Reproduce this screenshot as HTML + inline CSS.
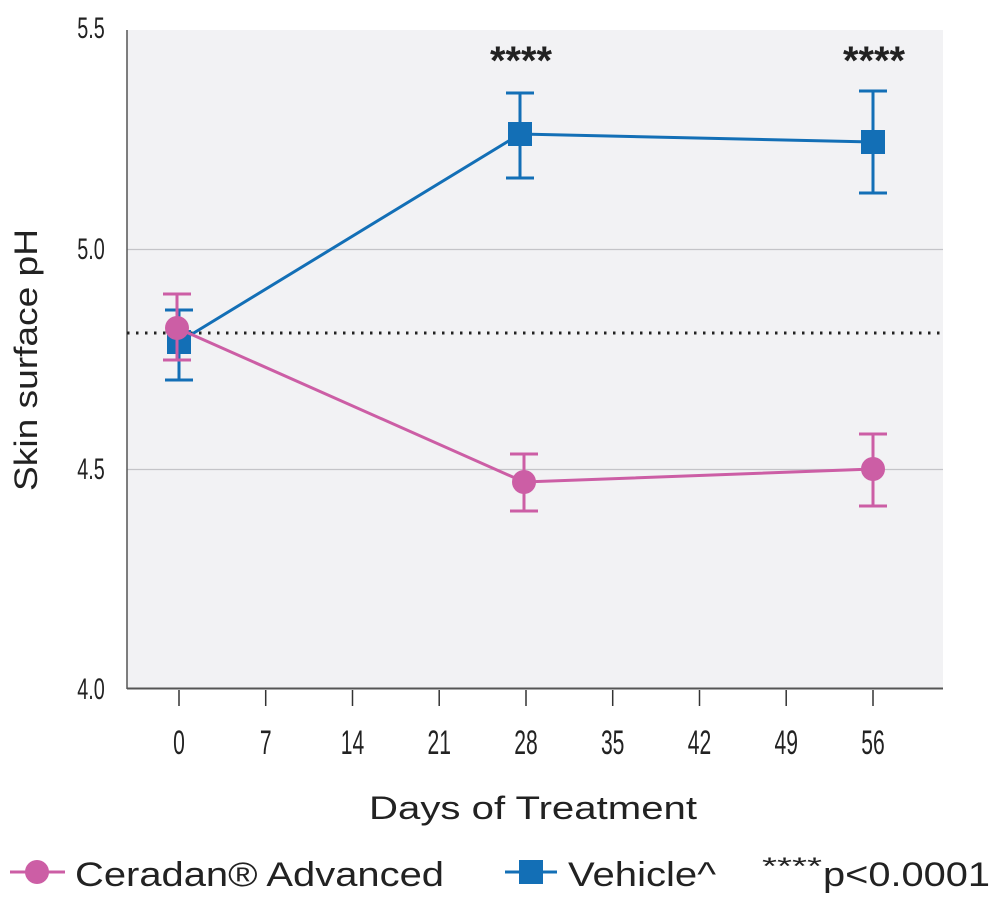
<!DOCTYPE html>
<html><head><style>body{margin:0;background:#fff}svg{display:block}</style></head><body>
<svg width="1000" height="906" viewBox="0 0 1000 906" xmlns="http://www.w3.org/2000/svg" font-family="Liberation Sans, sans-serif">
<rect x="127" y="30" width="816" height="659" fill="#f2f2f4"/>
<line x1="127" y1="249.5" x2="943" y2="249.5" stroke="#c4c4c8" stroke-width="1.2"/>
<line x1="127" y1="469.5" x2="943" y2="469.5" stroke="#c4c4c8" stroke-width="1.2"/>
<line x1="127" y1="30" x2="127" y2="689" stroke="#555" stroke-width="1.5"/>
<line x1="127" y1="688.5" x2="943" y2="688.5" stroke="#555" stroke-width="2"/>
<g stroke="#333" stroke-width="1.5">
<line x1="179" y1="690" x2="179" y2="706"/><line x1="265.7" y1="690" x2="265.7" y2="706"/><line x1="352.5" y1="690" x2="352.5" y2="706"/><line x1="439.2" y1="690" x2="439.2" y2="706"/><line x1="526" y1="690" x2="526" y2="706"/><line x1="612.7" y1="690" x2="612.7" y2="706"/><line x1="699.5" y1="690" x2="699.5" y2="706"/><line x1="786.2" y1="690" x2="786.2" y2="706"/><line x1="873" y1="690" x2="873" y2="706"/>
</g>
<g font-size="34" fill="#222" text-anchor="middle">
<text x="179" y="754" transform="translate(179 0) scale(0.62 1) translate(-179 0)">0</text>
<text x="265.7" y="754" transform="translate(265.7 0) scale(0.62 1) translate(-265.7 0)">7</text>
<text x="352.5" y="754" transform="translate(352.5 0) scale(0.62 1) translate(-352.5 0)">14</text>
<text x="439.2" y="754" transform="translate(439.2 0) scale(0.62 1) translate(-439.2 0)">21</text>
<text x="526" y="754" transform="translate(526 0) scale(0.62 1) translate(-526 0)">28</text>
<text x="612.7" y="754" transform="translate(612.7 0) scale(0.62 1) translate(-612.7 0)">35</text>
<text x="699.5" y="754" transform="translate(699.5 0) scale(0.62 1) translate(-699.5 0)">42</text>
<text x="786.2" y="754" transform="translate(786.2 0) scale(0.62 1) translate(-786.2 0)">49</text>
<text x="873" y="754" transform="translate(873 0) scale(0.62 1) translate(-873 0)">56</text>
</g>
<g font-size="30" fill="#222" text-anchor="middle">
<text x="91" y="38" transform="translate(91 0) scale(0.66 1) translate(-91 0)">5.5</text>
<text x="91" y="259" transform="translate(91 0) scale(0.66 1) translate(-91 0)">5.0</text>
<text x="91" y="479" transform="translate(91 0) scale(0.66 1) translate(-91 0)">4.5</text>
<text x="91" y="699" transform="translate(91 0) scale(0.66 1) translate(-91 0)">4.0</text>
</g>
<text x="0" y="0" font-size="32" fill="#222" text-anchor="middle" transform="translate(37 360) rotate(-90)" textLength="262" lengthAdjust="spacingAndGlyphs">Skin surface pH</text>
<text x="533" y="819" font-size="32" fill="#222" text-anchor="middle" textLength="328" lengthAdjust="spacingAndGlyphs">Days of Treatment</text>
<line x1="127" y1="333" x2="943" y2="333" stroke="#222" stroke-width="3" stroke-dasharray="2.5 6.5"/>
<g stroke="#136fb6" stroke-width="3" fill="none">
<polyline points="179,342 520,134 873,142"/>
<line x1="179" y1="310" x2="179" y2="380"/><line x1="165" y1="310" x2="193" y2="310"/><line x1="165" y1="380" x2="193" y2="380"/>
<line x1="520" y1="93" x2="520" y2="178"/><line x1="506" y1="93" x2="534" y2="93"/><line x1="506" y1="178" x2="534" y2="178"/>
<line x1="873" y1="91" x2="873" y2="193"/><line x1="859" y1="91" x2="887" y2="91"/><line x1="859" y1="193" x2="887" y2="193"/>
</g>
<g fill="#136fb6"><rect x="167" y="330" width="24" height="24"/><rect x="508" y="122" width="24" height="24"/><rect x="861" y="130" width="24" height="24"/></g>
<g stroke="#cc5ea5" stroke-width="3" fill="none">
<polyline points="177,328 524,482 873,469"/>
<line x1="177" y1="294" x2="177" y2="360"/><line x1="163" y1="294" x2="191" y2="294"/><line x1="163" y1="360" x2="191" y2="360"/>
<line x1="524" y1="454" x2="524" y2="511"/><line x1="510" y1="454" x2="538" y2="454"/><line x1="510" y1="511" x2="538" y2="511"/>
<line x1="873" y1="434" x2="873" y2="506"/><line x1="859" y1="434" x2="887" y2="434"/><line x1="859" y1="506" x2="887" y2="506"/>
</g>
<g fill="#cc5ea5"><circle cx="177" cy="328" r="12"/><circle cx="524" cy="482" r="12"/><circle cx="873" cy="469" r="12"/></g>
<g font-size="40" font-weight="bold" fill="#222"><text x="490" y="74" textLength="62" lengthAdjust="spacingAndGlyphs">****</text><text x="843" y="74" textLength="62" lengthAdjust="spacingAndGlyphs">****</text></g>
<line x1="10" y1="872" x2="65" y2="872" stroke="#cc5ea5" stroke-width="3"/><circle cx="37" cy="872" r="12" fill="#cc5ea5"/>
<text x="75" y="886" font-size="34" fill="#222" textLength="369" lengthAdjust="spacingAndGlyphs">Ceradan® Advanced</text>
<line x1="505" y1="872" x2="557" y2="872" stroke="#136fb6" stroke-width="3"/><rect x="519" y="860" width="24" height="24" fill="#136fb6"/>
<text x="568" y="886" font-size="34" fill="#222" textLength="148" lengthAdjust="spacingAndGlyphs">Vehicle^</text>
<text x="762" y="874" font-size="24" fill="#222" textLength="60" lengthAdjust="spacingAndGlyphs">****</text>
<text x="823" y="886" font-size="34" fill="#222" textLength="167" lengthAdjust="spacingAndGlyphs">p&lt;0.0001</text>
</svg>
</body></html>
